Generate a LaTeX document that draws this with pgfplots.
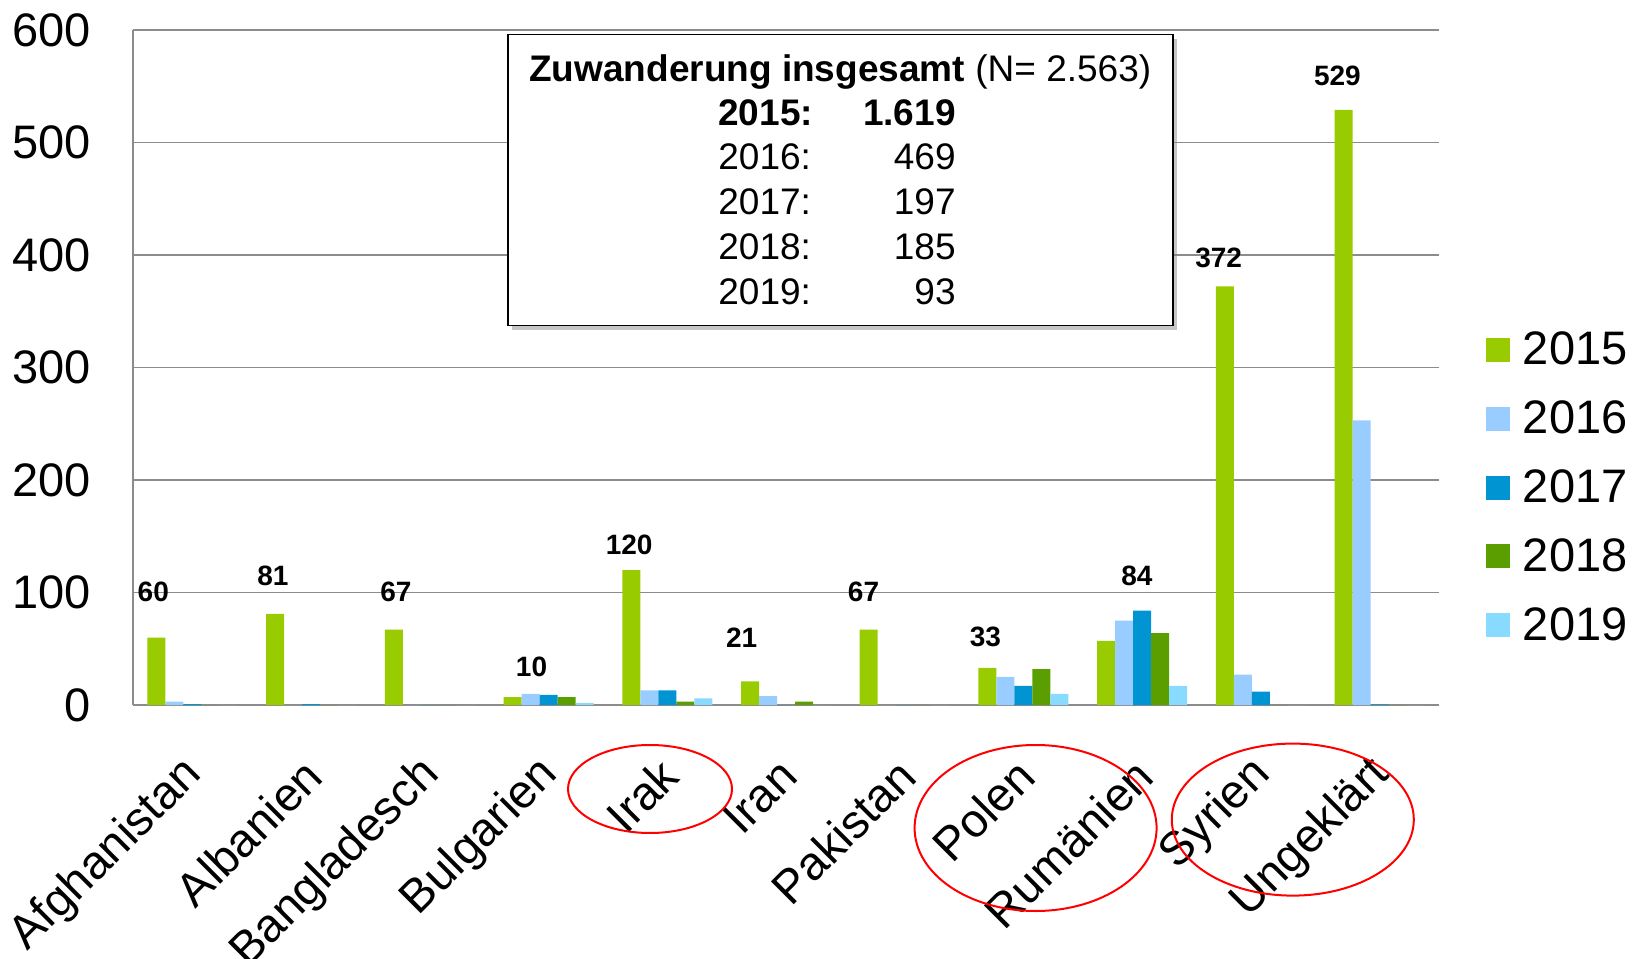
\documentclass[border=0pt]{standalone}
\usepackage{fontspec}
\setmainfont{Liberation Sans}
\usepackage{pgfplots}
\usepackage{pgfplotstable}
\pgfplotsset{compat=1.18}
\usetikzlibrary{shadows}
\definecolor{c15}{HTML}{99CC00}
\definecolor{c16}{HTML}{99CCFF}
\definecolor{c17}{HTML}{0094D3}
\definecolor{c18}{HTML}{5B9E00}
\definecolor{c19}{HTML}{88DBFF}
\definecolor{gridc}{HTML}{8C8C8C}

\pgfplotstableread{
x y15 y16 y17 y18 y19
0 60 3 0.7 0 0
1 81 0 0.7 0 0
2 67 0 0 0 0
3 7 10 9 7 2
4 120 13 13 3 6
5 21 8 0 3 0
6 67 0 0 0 0
7 33 25 17 32 10
8 57 75 84 64 17
9 372 27 12 0 0
10 529 253 0.6 0 0
}\data

\pgfplotstableread{
x y lab
-0.329 100.9 60
0.679 114.8 81
1.715 100.9 67
2.857 34.3 10
3.679 142.6 120
4.627 60.2 21
5.653 100.9 67
6.679 60.2 33
7.956 114.8 84
8.644 397.2 372
9.644 559.3 529
}\labs

\begin{document}
\begin{tikzpicture}
\useasboundingbox (-66.5pt,-126.5pt) rectangle (749.5pt,352.5pt);
\begin{axis}[
  at={(0pt,0pt)}, anchor=south west,
  scale only axis, width=653pt, height=337.5pt,
  xmin=-0.5, xmax=10.5, ymin=0, ymax=600,
  ytick={0,100,...,600},
  xtick={0,...,10},
  xticklabels={Afghanistan,Albanien,Bangladesch,Bulgarien,Irak,Iran,Pakistan,Polen,Rumänien,Syrien,Ungeklärt},
  axis x line=bottom, axis y line=left,
  axis line style={-, draw=gridc, line width=0.75pt},
  major tick length=0pt,
  ymajorgrids, major grid style={draw=gridc, line width=0.75pt},
  tick label style={font=\fontsize{23.5}{28}\selectfont},
  /pgf/number format/assume math mode=true,
  yticklabel style={inner sep=0pt, xshift=-21pt},
  xticklabel style={rotate=45, anchor=east, inner sep=0pt, xshift=-21.2pt, yshift=-23pt},
  legend style={at={(1.031,0.322)}, anchor=west, draw=none, fill=none,
    font=\fontsize{23.5}{28}\selectfont, row sep=12.5pt,
    nodes={inner sep=2pt}},
  legend cell align=left,
  legend image code/.code={\fill[#1] (0pt,-6pt) rectangle (12pt,6pt); \path (16.5pt,0pt);},
]
\addplot[ybar, bar width=9pt, bar shift=-18pt, fill=c15, draw=none] table[x=x, y=y15] {\data};
\addplot[ybar, bar width=9pt, bar shift=-9pt, fill=c16, draw=none] table[x=x, y=y16] {\data};
\addplot[ybar, bar width=9pt, bar shift=0pt, fill=c17, draw=none] table[x=x, y=y17] {\data};
\addplot[ybar, bar width=9pt, bar shift=9pt, fill=c18, draw=none] table[x=x, y=y18] {\data};
\addplot[ybar, bar width=9pt, bar shift=18pt, fill=c19, draw=none] table[x=x, y=y19] {\data};
\legend{2015,2016,2017,2018,2019}
\addplot[draw=none, mark=none, forget plot, nodes near coords, point meta=explicit symbolic,
  nodes near coords align=center,
  every node near coord/.append style={font=\fontsize{14}{16}\selectfont\bfseries, inner sep=0pt}]
  table[x=x, y=y, meta=lab] {\labs};
\end{axis}
% info box
\node[draw=black, line width=0.75pt, fill=white, anchor=north west,
  minimum width=332.5pt, minimum height=145.5pt, inner sep=0pt,
  drop shadow={shadow xshift=2pt, shadow yshift=-2pt, opacity=0.45, fill=gray}]
  (box) at (187pt,335.5pt) {};
\begingroup
\fontsize{18.5}{22}\selectfont
\node[anchor=base, inner sep=0pt] at ([yshift=-23.6pt]box.north) {\textbf{Zuwanderung insgesamt} (N= 2.563)};
\node[anchor=base west, inner sep=0pt] at ([xshift=105.5pt, yshift=-45.6pt]box.north west) {\textbf{2015:}};
\node[anchor=base east, inner sep=0pt] at ([xshift=224.5pt, yshift=-45.6pt]box.north west) {\textbf{1.619}};
\node[anchor=base west, inner sep=0pt] at ([xshift=105.5pt, yshift=-67.9pt]box.north west) {2016:};
\node[anchor=base east, inner sep=0pt] at ([xshift=224.5pt, yshift=-67.9pt]box.north west) {469};
\node[anchor=base west, inner sep=0pt] at ([xshift=105.5pt, yshift=-90.2pt]box.north west) {2017:};
\node[anchor=base east, inner sep=0pt] at ([xshift=224.5pt, yshift=-90.2pt]box.north west) {197};
\node[anchor=base west, inner sep=0pt] at ([xshift=105.5pt, yshift=-112.6pt]box.north west) {2018:};
\node[anchor=base east, inner sep=0pt] at ([xshift=224.5pt, yshift=-112.6pt]box.north west) {185};
\node[anchor=base west, inner sep=0pt] at ([xshift=105.5pt, yshift=-135.2pt]box.north west) {2019:};
\node[anchor=base east, inner sep=0pt] at ([xshift=224.5pt, yshift=-135.2pt]box.north west) {93};
\endgroup
% red ellipses
\draw[red, line width=1pt] (258.5pt,-42pt) ellipse [x radius=41pt, y radius=22pt];
\draw[red, line width=1pt] (451.3pt,-61.5pt) ellipse [x radius=60.5pt, y radius=41.5pt];
\draw[red, line width=1pt] (579.9pt,-57.3pt) ellipse [x radius=60.5pt, y radius=38pt];
\end{tikzpicture}
\end{document}
